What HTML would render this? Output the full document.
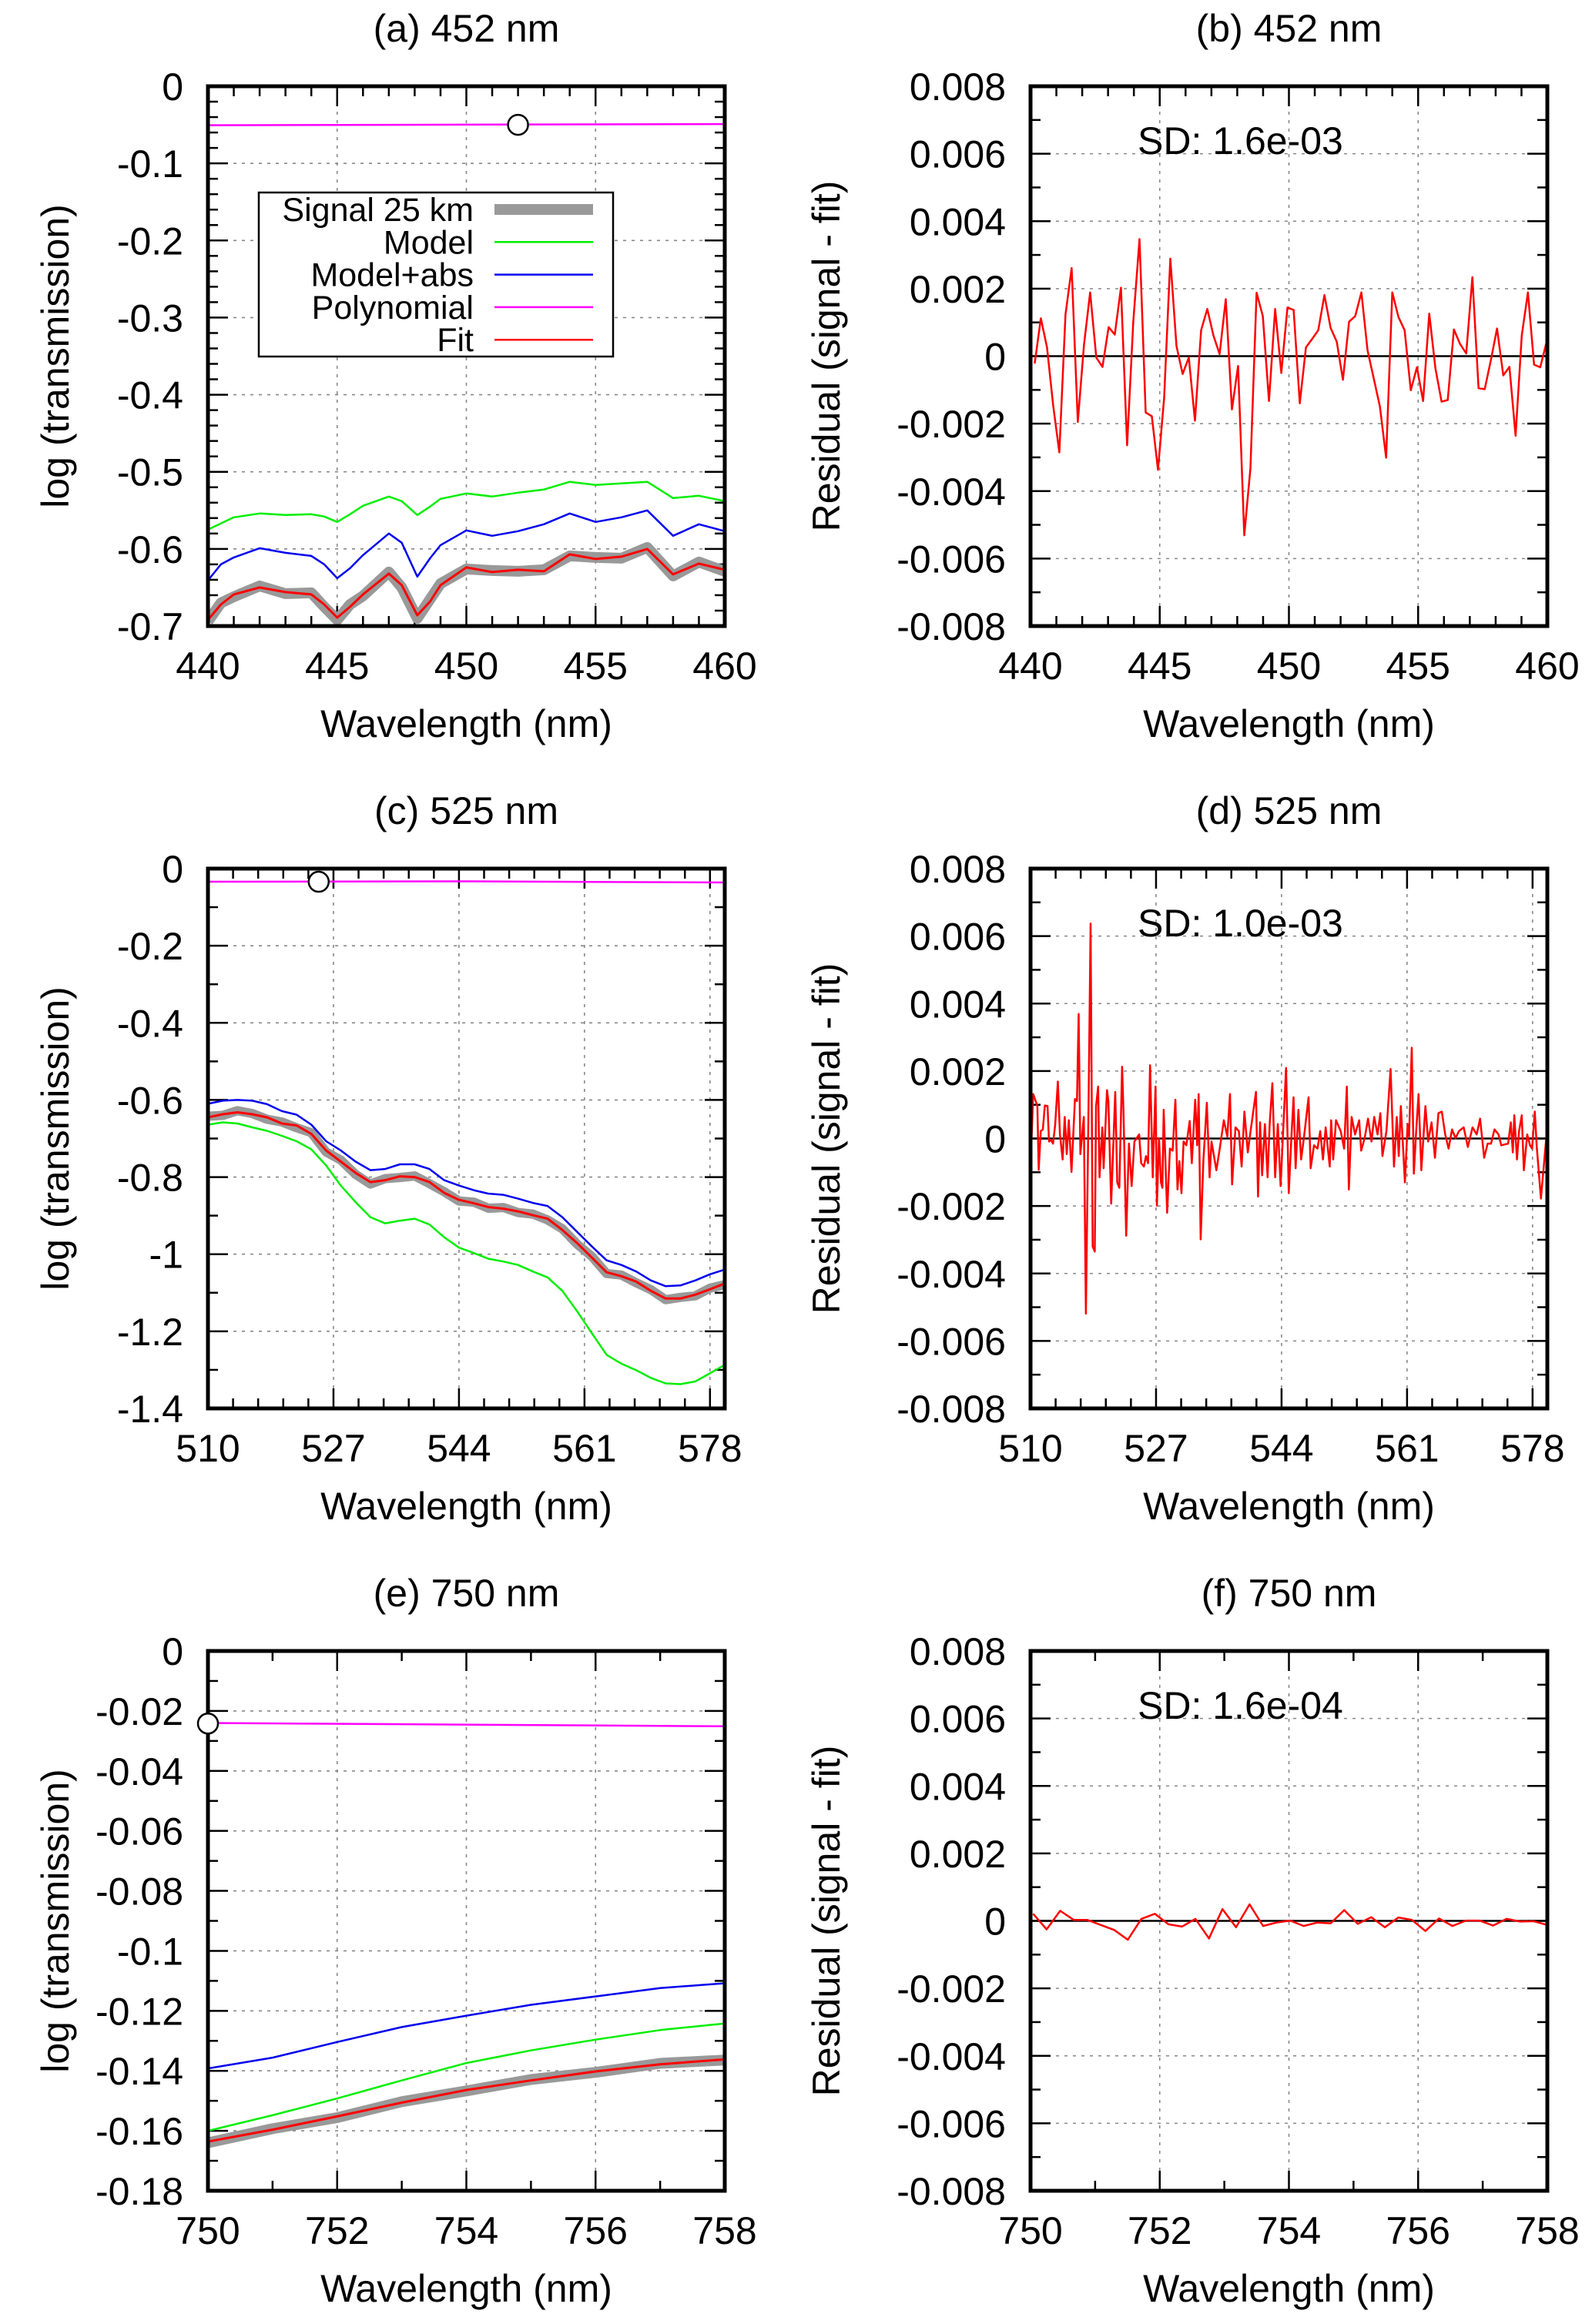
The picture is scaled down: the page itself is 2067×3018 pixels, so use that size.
<!DOCTYPE html>
<html><head><meta charset="utf-8"><title>Transmission fits</title>
<style>html,body{margin:0;padding:0;background:#fff}svg{display:block;font-family:"Liberation Sans",Arial,sans-serif}</style>
</head><body>
<svg id="chart" width="2067" height="3018" viewBox="0 0 2067 3018" xmlns="http://www.w3.org/2000/svg">
<rect x="0" y="0" width="2067" height="3018" fill="#fff"/>
</svg>
<script>
// ---------- Panel (a) data ----------
const aWl = [440,440.5,441,442,443,444,444.5,445,445.5,446,447,447.5,448.1,448.6,449,450,451,452,453,454,455,456,457,458,459,460];
const aModel = [-0.575,-0.567,-0.559,-0.554,-0.556,-0.555,-0.558,-0.565,-0.555,-0.544,-0.532,-0.538,-0.556,-0.545,-0.535,-0.528,-0.532,-0.527,-0.523,-0.513,-0.517,-0.515,-0.513,-0.534,-0.531,-0.538];
const aAbs = [-0.641,-0.620,-0.611,-0.599,-0.605,-0.609,-0.620,-0.638,-0.625,-0.608,-0.580,-0.592,-0.636,-0.612,-0.595,-0.576,-0.583,-0.577,-0.568,-0.554,-0.565,-0.559,-0.550,-0.583,-0.568,-0.577];
const aFit = [-0.692,-0.672,-0.659,-0.650,-0.656,-0.659,-0.672,-0.689,-0.675,-0.659,-0.632,-0.647,-0.686,-0.668,-0.647,-0.624,-0.630,-0.627,-0.629,-0.607,-0.613,-0.610,-0.600,-0.633,-0.619,-0.627];
const aSignal = [-0.694,-0.670,-0.662,-0.648,-0.658,-0.657,-0.675,-0.692,-0.672,-0.661,-0.630,-0.650,-0.690,-0.665,-0.645,-0.626,-0.628,-0.629,-0.627,-0.609,-0.611,-0.612,-0.598,-0.635,-0.617,-0.629];
const aPolyWl = [440,460];
const aPoly = [-0.0505,-0.0490];
const aMarker = [452,-0.050];
const aXTicks = [440,445,450,455,460];
const aYTicks = [0,-0.1,-0.2,-0.3,-0.4,-0.5,-0.6,-0.7];
const aYTickLabels = ["0","-0.1","-0.2","-0.3","-0.4","-0.5","-0.6","-0.7"];

// ---------- Panel (b) data (residual, units of 1e-3) ----------
const bStart = 440.16;
const bStep = 0.2386;
const bRes = [-0.22,1.12,0.26,-1.46,-2.85,1.23,2.61,-1.95,0.33,1.89,-0.04,-0.32,0.86,0.64,2.03,-2.64,1.02,3.47,-1.67,-1.78,-3.37,-1.23,2.89,0.30,-0.53,-0.04,-1.91,0.77,1.40,0.61,0.06,1.69,-1.58,-0.29,-5.31,-3.33,1.88,1.19,-1.33,1.40,-0.50,1.44,1.37,-1.40,0.26,0.51,0.77,1.81,0.84,0.43,-0.70,1.02,1.19,1.89,0.17,-0.66,-1.49,-3.01,1.89,1.16,0.77,-1.01,-0.33,-1.33,1.26,-0.36,-1.35,-1.30,0.79,0.36,0.08,2.34,-0.95,-0.98,-0.12,0.82,-0.57,-0.32,-2.36,0.61,1.89,-0.25,-0.33,0.40];

// ---------- Panel (c) data ----------
const cWl = [510,512,514,516,518,520,522,524,526,528,530,532,534,536,538,540,542,544,546,548,550,552,554,556,558,560,562,564,566,568,570,572,574,576,578,580];
const cModel = [-0.664,-0.658,-0.661,-0.671,-0.680,-0.693,-0.707,-0.728,-0.770,-0.822,-0.865,-0.904,-0.920,-0.913,-0.908,-0.923,-0.956,-0.983,-0.997,-1.012,-1.019,-1.028,-1.045,-1.060,-1.095,-1.148,-1.205,-1.261,-1.284,-1.301,-1.321,-1.335,-1.337,-1.330,-1.309,-1.287];
const cAbs = [-0.610,-0.602,-0.600,-0.602,-0.611,-0.629,-0.638,-0.664,-0.707,-0.731,-0.760,-0.782,-0.779,-0.767,-0.767,-0.779,-0.808,-0.822,-0.834,-0.843,-0.846,-0.856,-0.867,-0.875,-0.904,-0.942,-0.980,-1.016,-1.028,-1.045,-1.068,-1.083,-1.081,-1.068,-1.052,-1.040];
const cFit = [-0.645,-0.637,-0.632,-0.637,-0.645,-0.661,-0.666,-0.688,-0.731,-0.760,-0.789,-0.813,-0.808,-0.798,-0.800,-0.813,-0.841,-0.859,-0.868,-0.878,-0.882,-0.889,-0.899,-0.908,-0.937,-0.971,-1.009,-1.047,-1.057,-1.071,-1.095,-1.115,-1.115,-1.105,-1.091,-1.076];
const cSignal = [-0.642,-0.640,-0.628,-0.635,-0.650,-0.657,-0.672,-0.685,-0.735,-0.756,-0.793,-0.818,-0.804,-0.801,-0.797,-0.817,-0.838,-0.862,-0.865,-0.881,-0.879,-0.892,-0.896,-0.911,-0.934,-0.974,-1.006,-1.050,-1.054,-1.074,-1.092,-1.118,-1.112,-1.108,-1.088,-1.079];
const cPolyWl = [510,545,580];
const cPoly = [-0.034,-0.033,-0.036];
const cMarker = [525,-0.034];
const cXTicks = [510,527,544,561,578];
const cYTicks = [0,-0.2,-0.4,-0.6,-0.8,-1.0,-1.2,-1.4];
const cYTickLabels = ["0","-0.2","-0.4","-0.6","-0.8","-1","-1.2","-1.4"];

// ---------- Panel (d) data (residual, units of 1e-3) ----------
const dWl = [510.00,510.37,510.93,511.11,511.39,511.67,511.94,512.31,512.50,512.78,513.05,513.33,513.70,513.98,514.35,514.63,514.90,515.18,515.55,516.02,516.29,516.52,516.75,517.22,517.50,517.87,518.14,518.42,518.70,518.88,519.16,519.35,519.72,519.90,520.36,520.55,520.92,521.48,521.75,522.03,522.40,522.59,522.96,523.33,523.70,524.07,524.71,524.99,525.36,525.64,525.92,526.19,526.56,526.93,527.12,527.40,527.67,527.86,528.04,528.51,528.88,529.25,529.62,529.90,530.17,530.45,530.73,531.10,531.56,531.84,532.30,532.58,532.77,533.04,533.41,533.88,534.25,534.52,535.17,535.63,536.19,536.65,537.02,537.30,537.76,538.22,538.59,538.97,539.43,539.80,540.54,540.82,541.09,541.37,541.74,542.11,542.39,542.76,543.13,543.50,543.87,544.24,544.61,544.98,545.35,545.63,545.91,546.28,546.65,547.02,547.66,547.94,548.40,548.87,549.24,549.61,549.98,550.53,550.72,551.00,551.37,552.01,552.48,552.85,553.12,553.49,553.96,554.51,554.79,555.25,555.71,556.18,556.55,557.01,557.38,557.66,558.21,558.77,559.23,559.60,559.88,560.16,560.71,561.08,561.27,561.64,561.92,562.19,562.56,562.93,563.49,563.86,564.32,564.78,565.25,565.71,566.17,566.63,567.10,567.56,568.02,568.67,569.23,569.87,570.43,570.89,571.45,571.91,572.37,572.84,573.39,573.76,574.69,575.06,575.33,575.52,575.89,576.17,576.54,576.82,577.28,577.65,577.93,578.30,578.57,579.13,580.00];
const dRes = [-0.83,1.32,0.96,-0.93,0.22,0.27,0.98,0.96,-0.09,-0.04,-0.15,0.38,1.69,0.12,-0.62,0.64,-0.46,0.54,-0.99,1.17,1.11,3.69,-0.46,0.64,-5.19,1.06,6.37,-3.20,-3.35,0.96,1.54,-1.15,0.33,-0.88,1.43,1.11,-1.93,1.38,-1.30,-1.46,2.13,0.80,-2.88,-0.15,-1.41,-0.09,0.12,-0.73,-0.83,-0.52,-0.73,2.17,-1.15,1.54,-1.99,0.01,-1.30,-1.46,0.85,-2.20,-0.30,-0.36,1.15,-1.51,-0.67,-1.62,-0.09,-0.20,0.52,-0.73,1.15,-0.20,1.32,-2.99,-0.67,1.06,-1.15,-0.09,-0.94,-0.30,0.54,0.06,1.32,-1.36,0.33,0.22,-0.83,0.80,-0.41,0.22,1.38,-1.72,0.48,-1.09,0.43,-1.15,0.43,1.64,-1.15,0.43,-1.41,0.33,2.09,-1.62,0.12,1.22,-0.88,0.85,-0.62,0.01,1.22,-0.88,-0.20,-0.30,0.22,-0.62,0.33,-0.83,0.54,-0.62,0.54,0.22,-0.30,1.54,-1.51,0.64,0.12,0.54,-0.36,0.01,0.59,-0.09,0.64,0.12,0.75,-0.52,0.22,2.06,-0.83,0.64,-0.52,0.96,-1.30,0.43,0.06,2.69,-1.04,0.06,1.32,-0.94,0.96,-0.09,0.48,-0.57,0.75,0.80,0.12,-0.30,0.27,0.01,0.22,0.33,-0.25,0.33,0.12,0.59,-0.57,-0.15,-0.15,0.27,0.12,-0.20,-0.15,0.48,-0.41,0.69,-0.62,0.22,0.69,-0.94,0.12,-0.20,-0.30,0.80,-0.25,-1.78,0.38];

// ---------- Panel (e) data ----------
const eWl = [750,751,752,753,754,755,756,757,758];
const eModel = [-0.1600,-0.1548,-0.1492,-0.1432,-0.1374,-0.1332,-0.1296,-0.1264,-0.1242];
const eAbs = [-0.1392,-0.1356,-0.1304,-0.1254,-0.1216,-0.1180,-0.1152,-0.1124,-0.1108];
const eFit = [-0.1636,-0.1596,-0.1552,-0.1506,-0.1464,-0.1432,-0.1402,-0.1378,-0.1362];
const eSignal = [-0.1640,-0.1593,-0.1556,-0.1503,-0.1467,-0.1429,-0.1405,-0.1375,-0.1364];
const ePolyWl = [750,758];
const ePoly = [-0.0240,-0.0251];
const eMarker = [750,-0.0242];
const eXTicks = [750,752,754,756,758];
const eYTicks = [0,-0.02,-0.04,-0.06,-0.08,-0.1,-0.12,-0.14,-0.16,-0.18];
const eYTickLabels = ["0","-0.02","-0.04","-0.06","-0.08","-0.1","-0.12","-0.14","-0.16","-0.18"];

// ---------- Panel (f) data (residual, units of 1e-3) ----------
const fStart = 750.04;
const fStep = 0.2094;
const fRes = [0.21,-0.25,0.30,0.03,0.03,-0.12,-0.27,-0.56,0.06,0.21,-0.10,-0.17,0.06,-0.52,0.35,-0.19,0.49,-0.15,-0.05,0.01,-0.15,-0.05,-0.07,0.32,-0.09,0.11,-0.19,0.10,0.03,-0.30,0.07,-0.15,0.01,0.01,-0.14,0.06,-0.02,-0.01,-0.12];

const rYTicks = [0.008,0.006,0.004,0.002,0,-0.002,-0.004,-0.006,-0.008];
const rYTickLabels = ["0.008","0.006","0.004","0.002","0","-0.002","-0.004","-0.006","-0.008"];
const sdLabels = ["SD: 1.6e-03","SD: 1.0e-03","SD: 1.6e-04"];

// ---------- drawing ----------
const NS = 'http://www.w3.org/2000/svg';
const svg = document.getElementById('chart');
function mk(tag, attrs, parent) {
  const e = document.createElementNS(NS, tag);
  for (const k in attrs) e.setAttribute(k, attrs[k]);
  (parent || svg).appendChild(e);
  return e;
}
const FS = 50;
let clipId = 0;

function panel(cfg) {
  const g = mk('g', {});
  
  
  const x0 = cfg.x0, y0 = cfg.y0, w = 671, h = 701;
  const sx = v => x0 + (v - cfg.xmin) / (cfg.xmax - cfg.xmin) * w;
  const sy = v => y0 + (cfg.ymax - v) / (cfg.ymax - cfg.ymin) * h;
  // grid
  cfg.xTicks.forEach(t => {
    if (t <= cfg.xmin || t >= cfg.xmax) return;
    const l = mk('line', {x1: sx(t), x2: sx(t), y1: y0, y2: y0 + h, stroke: '#888', 'stroke-width': 1.6, 'stroke-dasharray': '4 7'}, g);
    
    
  });
  cfg.yTicks.forEach(t => {
    if (t <= cfg.ymin || t >= cfg.ymax) return;
    const l = mk('line', {x1: x0, x2: x0 + w, y1: sy(t), y2: sy(t), stroke: '#888', 'stroke-width': 1.6, 'stroke-dasharray': '4 7'}, g);
    
    
  });
  // minor ticks
  const tk = mk('g', {stroke: '#000', 'stroke-width': 2.5}, g);
  
  
  for (let v = cfg.xmin; v <= cfg.xmax + 1e-9; v += cfg.xMinor) {
    const major = cfg.xTicks.some(t => Math.abs(t - v) < 1e-6);
    const L = major ? 26 : 13;
    mk('line', {x1: sx(v), x2: sx(v), y1: y0 + h, y2: y0 + h - L}, tk);
    mk('line', {x1: sx(v), x2: sx(v), y1: y0, y2: y0 + L}, tk);
  }
  for (let v = cfg.ymin; v <= cfg.ymax + 1e-9; v += cfg.yMinor) {
    const major = cfg.yTicks.some(t => Math.abs(t - v) < 1e-7);
    const L = major ? 26 : 13;
    mk('line', {x1: x0, x2: x0 + L, y1: sy(v), y2: sy(v)}, tk);
    mk('line', {x1: x0 + w, x2: x0 + w - L, y1: sy(v), y2: sy(v)}, tk);
  }
  // tick labels
  cfg.xTicks.forEach(t => {
    const tx = mk('text', {x: sx(t), y: y0 + h + 69, 'font-size': FS, 'text-anchor': 'middle'}, g);
    tx.textContent = String(t);
    
    
  });
  cfg.yTicks.forEach((t, i) => {
    const ty = mk('text', {x: x0 - 32, y: sy(t) + 18, 'font-size': FS, 'text-anchor': 'end'}, g);
    ty.textContent = cfg.yLabels[i];
    
    
  });
  // titles
  const ti = mk('text', {x: x0 + w / 2, y: y0 - 58, 'font-size': FS, 'text-anchor': 'middle'}, g);
  ti.textContent = cfg.title;
  
  
  const xl = mk('text', {x: x0 + w / 2, y: y0 + h + 144, 'font-size': FS, 'text-anchor': 'middle'}, g);
  xl.textContent = 'Wavelength (nm)';
  
  
  const yx = cfg.ylx, yy = y0 + h / 2;
  const yl = mk('text', {x: yx, y: yy, 'font-size': FS, 'text-anchor': 'middle', 'dominant-baseline': 'central', transform: `rotate(-90 ${yx} ${yy})`}, g);
  yl.textContent = cfg.ylabel;
  
  
  // clip
  clipId++;
  const cp = mk('clipPath', {id: 'clip' + clipId}, g);
  mk('rect', {x: x0, y: y0, width: w, height: h}, cp);
  const plot = mk('g', {'clip-path': `url(#clip${clipId})`}, g);
  
  
  return {g, plot, sx, sy, x0, y0, w, h};
}

function series(p, xs, ys, color, width, name) {
  const n = Math.min(xs.length, ys.length);
  const pts = [];
  for (let i = 0; i < n; i++) pts.push(p.sx(xs[i]).toFixed(1) + ',' + p.sy(ys[i]).toFixed(1));
  const pl = mk('polyline', {points: pts.join(' '), fill: 'none', stroke: color, 'stroke-width': width, 'stroke-linejoin': 'round'}, p.plot);
  
  
  return pl;
}
function frame(p) {
  const r = mk('rect', {x: p.x0, y: p.y0, width: p.w, height: p.h, fill: 'none', stroke: '#000', 'stroke-width': 5}, p.g);
  
  
}
function marker(p, m) {
  const c = mk('circle', {cx: p.sx(m[0]), cy: p.sy(m[1]), r: 13, fill: '#fff', stroke: '#000', 'stroke-width': 2.5}, p.g);
  
  
}
function transPanel(cfg, wl, model, abs, fit, sig, pwl, poly, mkr) {
  const p = panel(cfg);
  series(p, wl, sig, '#999', cfg.sigW, 'signal-line');
  series(p, wl, model, '#00ee00', 2.5, 'model-line');
  series(p, wl, abs, '#0000ee', 2.5, 'model-abs-line');
  series(p, pwl, poly, '#ff00ff', 2.5, 'polynomial-line');
  series(p, wl, fit, '#ff0000', 3, 'fit-line');
  frame(p);
  marker(p, mkr);
  return p;
}
function resPanel(cfg, xs, ys, sd) {
  const p = panel(cfg);
  const z = mk('line', {x1: p.x0, x2: p.x0 + p.w, y1: p.sy(0), y2: p.sy(0), stroke: '#000', 'stroke-width': 2.5}, p.plot);
  
  
  series(p, xs, ys.map(v => v / 1000), '#ff0000', 2.5, 'residual-line');
  frame(p);
  const t = mk('text', {x: p.x0 + 139, y: p.y0 + 88, 'font-size': FS}, p.g);
  t.textContent = sd;
  
  
  return p;
}
function seqX(start, step, n) { const a = []; for (let i = 0; i < n; i++) a.push(start + i * step); return a; }

const L0 = 270, R0 = 1338, rows = [112, 1128, 2144];
const resCommon = {ymin: -0.008, ymax: 0.008, yMinor: 0.001, yTicks: rYTicks, yLabels: rYTickLabels, ylabel: 'Residual (signal - fit)', ylx: 1073};

const pa = transPanel({name: 'panel-a', x0: L0, y0: rows[0], xmin: 440, xmax: 460, xMinor: 1, xTicks: aXTicks, ymin: -0.7, ymax: 0, yMinor: 0.02, yTicks: aYTicks, yLabels: aYTickLabels, title: '(a) 452 nm', ylabel: 'log (transmission)', ylx: 72, sigW: 14}, aWl, aModel, aAbs, aFit, aSignal, aPolyWl, aPoly, aMarker);
resPanel(Object.assign({name: 'panel-b', x0: R0, y0: rows[0], xmin: 440, xmax: 460, xMinor: 1, xTicks: aXTicks, title: '(b) 452 nm'}, resCommon), seqX(bStart, bStep, bRes.length), bRes, sdLabels[0]);
transPanel({name: 'panel-c', x0: L0, y0: rows[1], xmin: 510, xmax: 580, xMinor: 3.4, xTicks: cXTicks, ymin: -1.4, ymax: 0, yMinor: 0.1, yTicks: cYTicks, yLabels: cYTickLabels, title: '(c) 525 nm', ylabel: 'log (transmission)', ylx: 72, sigW: 12}, cWl, cModel, cAbs, cFit, cSignal, cPolyWl, cPoly, cMarker);
resPanel(Object.assign({name: 'panel-d', x0: R0, y0: rows[1], xmin: 510, xmax: 580, xMinor: 3.4, xTicks: cXTicks, title: '(d) 525 nm'}, resCommon), dWl, dRes, sdLabels[1]);
transPanel({name: 'panel-e', x0: L0, y0: rows[2], xmin: 750, xmax: 758, xMinor: 1, xTicks: eXTicks, ymin: -0.18, ymax: 0, yMinor: 0.01, yTicks: eYTicks, yLabels: eYTickLabels, title: '(e) 750 nm', ylabel: 'log (transmission)', ylx: 72, sigW: 14}, eWl, eModel, eAbs, eFit, eSignal, ePolyWl, ePoly, eMarker);
resPanel(Object.assign({name: 'panel-f', x0: R0, y0: rows[2], xmin: 750, xmax: 758, xMinor: 1, xTicks: eXTicks, title: '(f) 750 nm'}, resCommon), seqX(fStart, fStep, fRes.length), fRes, sdLabels[2]);

// legend in panel a
const legendNames = ['Signal 25 km', 'Model', 'Model+abs', 'Polynomial', 'Fit'];
const legendColors = ['#999', '#00ee00', '#0000ee', '#ff00ff', '#ff0000'];
const legendWidths = [14, 2.5, 2.5, 2.5, 2.5];
const lg = mk('g', {});


const lbox = mk('rect', {x: 336, y: 250, width: 460, height: 213, fill: '#fff', stroke: '#000', 'stroke-width': 2.5}, lg);


legendNames.forEach((nm, i) => {
  const cy = 272 + i * 42.3;
  const t = mk('text', {x: 615, y: cy + 15, 'font-size': 43, 'text-anchor': 'end'}, lg);
  t.textContent = nm;
  
  
  const l = mk('line', {x1: 642, x2: 770, y1: cy, y2: cy, stroke: legendColors[i], 'stroke-width': legendWidths[i]}, lg);
  
  
});
</script>
</body></html>
